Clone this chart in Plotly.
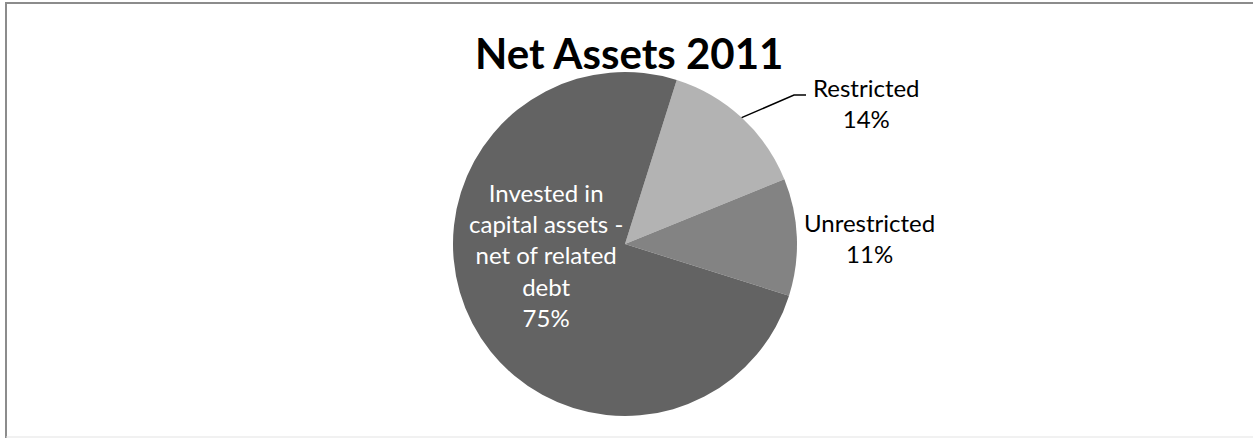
import math
import textwrap
import plotly.graph_objects as go

# Net assets composition, 2011 (share of total, %)
labels = ["Restricted", "Unrestricted", "Invested in capital assets - net of related debt"]
values = [14, 11, 75]
colors = ["#b3b3b3", "#838383", "#636363"]
title = "Net Assets 2011"

W, H = 1253, 438
CX, CY, R = 625, 244, 172      # pie centre and radius in pixels
ROTATION = 17.5                # start angle of the first slice, clockwise from 12 o'clock
FONT = "Lato"


def px(x):
    return x / W


def py(y):
    return 1 - y / H


total = sum(values)
pcts = [round(100 * v / total) for v in values]

fig = go.Figure(
    go.Pie(
        labels=labels,
        values=values,
        sort=False,
        direction="clockwise",
        rotation=ROTATION,
        marker=dict(colors=colors, line=dict(width=0)),
        textinfo="none",
        hoverinfo="label+percent",
        showlegend=False,
        domain=dict(x=[px(CX - R), px(CX + R)], y=[py(CY + R), py(CY - R)]),
    )
)

# Data labels: (centre x, centre y, colour) of each text block
label_pos = [(866, 103, "#000000"), (869, 238, "#000000"), (546, 255, "#ffffff")]
annotations = []
for lab, pct, (lx, ly, col) in zip(labels, pcts, label_pos):
    text = "<br>".join(textwrap.wrap(lab, 16) + [f"{pct}%"])
    annotations.append(dict(
        x=px(lx), y=py(ly), xref="paper", yref="paper",
        text=text, showarrow=False, xanchor="center", yanchor="middle",
        font=dict(family=FONT, size=24, color=col),
    ))

annotations.append(dict(
    x=px(629), y=py(53), xref="paper", yref="paper",
    text=f"<b>{title}</b>", showarrow=False, xanchor="center", yanchor="middle",
    font=dict(family=FONT, size=42, color="#000000"),
))

# Leader line from the middle of the Restricted slice's edge to its label
mid = ROTATION + 360 * (values[0] / 2) / total
ex = CX + R * math.sin(math.radians(mid))
ey = CY - R * math.cos(math.radians(mid))
leader = [(ex, ey), (794, 95), (806, 95)]
path = "M " + " L ".join(f"{px(x)},{py(y)}" for x, y in leader)

shapes = [
    dict(type="path", path=path, xref="paper", yref="paper",
         line=dict(color="#000000", width=1.5)),
    # chart frame
    dict(type="line", xref="paper", yref="paper", x0=px(5), x1=1, y0=py(3), y1=py(3),
         line=dict(color="#8c8c8c", width=2)),
    dict(type="line", xref="paper", yref="paper", x0=px(6), x1=px(6), y0=py(2), y1=0,
         line=dict(color="#8c8c8c", width=2)),
    dict(type="line", xref="paper", yref="paper", x0=px(6), x1=1, y0=py(437), y1=py(437),
         line=dict(color="#e3e3e3", width=1)),
]

fig.update_layout(
    width=W, height=H,
    margin=dict(l=0, r=0, t=0, b=0),
    paper_bgcolor="#ffffff",
    plot_bgcolor="#ffffff",
    annotations=annotations,
    shapes=shapes,
)

fig.write_html("out.html")
